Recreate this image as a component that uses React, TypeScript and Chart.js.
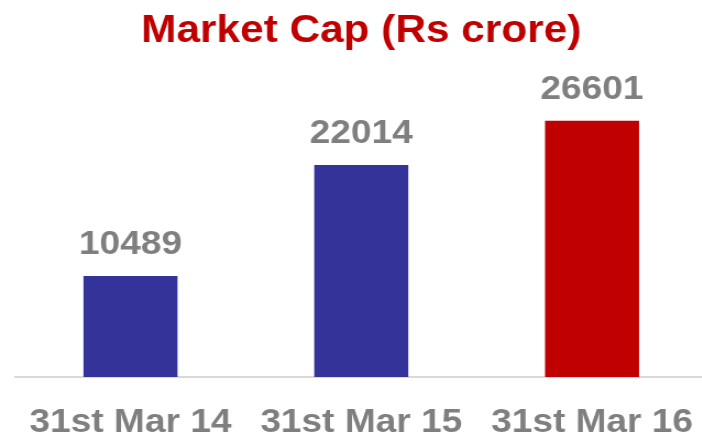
import React, { useEffect, useRef } from "react";
import { Chart, registerables } from "chart.js";

Chart.register(...registerables);

const categories = ["31st Mar 14", "31st Mar 15", "31st Mar 16"];
const marketCap = [10489, 22014, 26601];
const barColors = ["#333399", "#333399", "#C00000"];
const titleText = "Market Cap (Rs crore)";

const STRETCH = 1.1;
const INNER_W = 644;
const INNER_H = 436;
const FONT = '"Liberation Sans", Arial, Helvetica, sans-serif';
const LABEL_SIZE = 33.7;

const valueLabels = {
  id: "valueLabels",
  afterDatasetsDraw(chart: any) {
    const ctx = chart.ctx;
    const meta = chart.getDatasetMeta(0);
    ctx.save();
    ctx.font = `bold ${LABEL_SIZE}px ${FONT}`;
    ctx.fillStyle = "#7F7F7F";
    ctx.textAlign = "center";
    ctx.textBaseline = "alphabetic";
    meta.data.forEach((bar: any, i: number) => {
      ctx.fillText(String(marketCap[i]), bar.x, bar.y - 22);
    });
    ctx.restore();
  },
};

export default function App() {
  const canvasRef = useRef<HTMLCanvasElement | null>(null);

  useEffect(() => {
    const canvas = canvasRef.current;
    if (!canvas) return;
    const chart = new Chart(canvas, {
      type: "bar",
      data: {
        labels: categories,
        datasets: [
          {
            data: marketCap,
            backgroundColor: barColors,
            borderWidth: 0,
            barPercentage: 0.4075,
            categoryPercentage: 1,
          },
        ],
      },
      options: {
        responsive: false,
        maintainAspectRatio: false,
        devicePixelRatio: 1,
        animation: false,
        layout: { padding: { left: 13.7, right: 0.9, top: 0, bottom: 0 } },
        plugins: {
          legend: { display: false },
          tooltip: { enabled: false },
          title: {
            display: true,
            text: titleText,
            color: "#C00000",
            font: { family: FONT, size: 38.5, weight: "bold", lineHeight: 1.2 },
            padding: { top: 8, bottom: 14.6 },
          },
        },
        scales: {
          x: {
            grid: { display: false, drawTicks: false },
            border: { display: true, color: "#D9D9D9", width: 2 },
            ticks: {
              color: "#7F7F7F",
              font: { family: FONT, size: LABEL_SIZE, weight: "bold", lineHeight: 1 },
              padding: 29,
              maxRotation: 0,
              minRotation: 0,
              autoSkip: false,
            },
            afterFit(scale: any) {
              scale.paddingLeft = 0;
              scale.paddingRight = 0;
              scale.height = 59;
            },
          },
          y: { display: false, min: 0, max: 32000 },
        },
      },
      plugins: [valueLabels],
    });
    return () => chart.destroy();
  }, []);

  return (
    <div
      style={{
        position: "absolute",
        left: 0,
        top: 0,
        width: 702,
        height: 436,
        overflow: "hidden",
        background: "#ffffff",
      }}
    >
      <div
        style={{
          position: "absolute",
          left: 0,
          top: 0,
          width: INNER_W,
          height: INNER_H,
          transform: `scaleX(${STRETCH})`,
          transformOrigin: "0 0",
        }}
      >
        <canvas
          ref={canvasRef}
          width={INNER_W}
          height={INNER_H}
          style={{ width: INNER_W, height: INNER_H, display: "block" }}
        />
      </div>
    </div>
  );
}
